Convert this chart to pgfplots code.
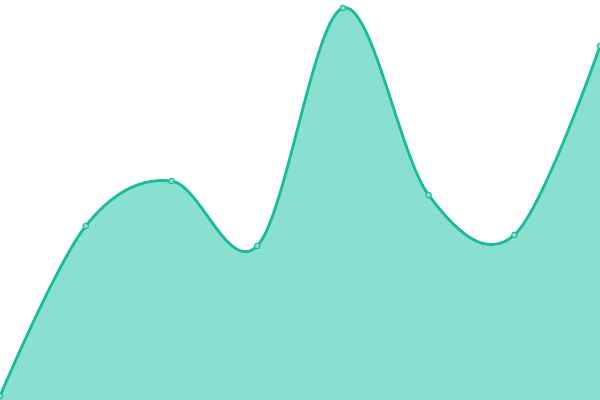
\documentclass[border=0pt]{standalone}
\usepackage{pgfplots}
\pgfplotsset{compat=1.18}
\definecolor{linec}{RGB}{26,188,156}
\definecolor{fillc}{RGB}{137,224,208}
\begin{document}
\begin{tikzpicture}
\begin{axis}[
  hide axis,
  scale only axis,
  width=600bp, height=400bp,
  xmin=0, xmax=7, ymin=0, ymax=400,
  clip=true,
]
\addplot[draw=none, fill=fillc, smooth, tension=0.6] coordinates {
(0,4) (1,174) (2,219) (3,154) (4,392) (5,205) (6,165) (7,354)
} \closedcycle;
\addplot[linec, line width=2.8bp, smooth, tension=0.6,
  mark=*, mark size=2.8bp, mark options={fill=fillc, draw=linec, line width=1bp}] coordinates {
(0,4) (1,174) (2,219) (3,154) (4,392) (5,205) (6,165) (7,354)
};
\end{axis}
\pgfresetboundingbox
\useasboundingbox (current axis.south west) rectangle (current axis.north east);
\end{tikzpicture}
\end{document}
